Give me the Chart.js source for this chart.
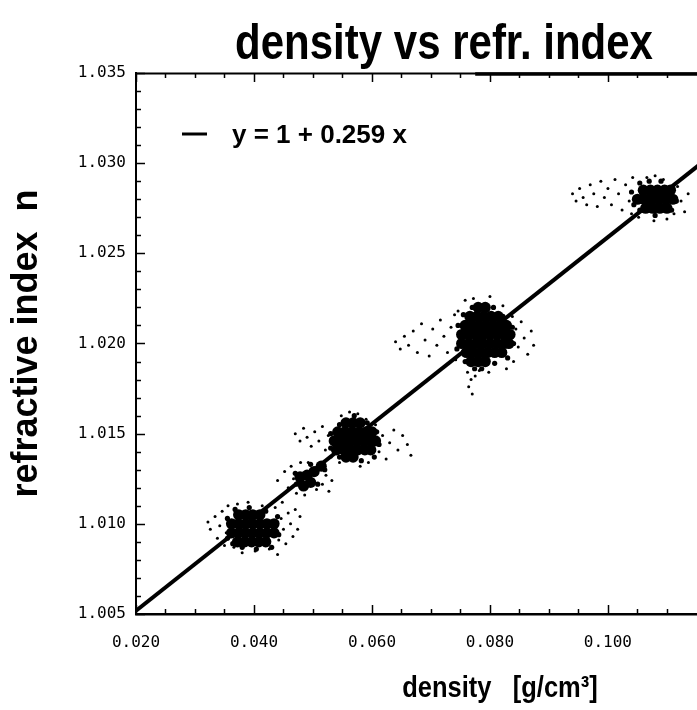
<!DOCTYPE html>
<html><head><meta charset="utf-8">
<script src="https://cdn.jsdelivr.net/npm/chart.js@4"></script>
<style>html,body{margin:0;padding:0;background:#fff;}canvas{display:block;}</style>
</head><body>
<canvas id="c" width="697" height="710"></canvas>
<script>
// ---- tick labels / tick positions ----
const xTickVals = [0.020, 0.040, 0.060, 0.080, 0.100];
const xMinorVals = [0.025, 0.030, 0.035, 0.045, 0.050, 0.055, 0.065, 0.070, 0.075, 0.085, 0.090, 0.095, 0.105, 0.110];
const yTickVals = [1.005, 1.010, 1.015, 1.020, 1.025, 1.030, 1.035];
const yMinorVals = [1.006, 1.007, 1.008, 1.009, 1.011, 1.012, 1.013, 1.014, 1.016, 1.017, 1.018, 1.019,
                    1.021, 1.022, 1.023, 1.024, 1.026, 1.027, 1.028, 1.029, 1.031, 1.032, 1.033, 1.034];

// ---- fit line y = 1 + 0.259 x (end points) ----
const fitDensity = [0.020, 0.1160];
const fitIndex   = [1.00518, 1.03004];

// ---- dense cores of the measurement clusters ----
const coreDensity = [
  0.0374,0.0386,0.0398,0.0410,
  0.0362,0.0374,0.0386,0.0398,0.0410,0.0422,0.0434,
  0.0362,0.0374,0.0386,0.0398,0.0410,0.0422,0.0434,
  0.0372,0.0384,0.0396,0.0408,0.0420,
  0.0478,0.0490,0.0502,0.0514,0.0496,0.0484,
  0.0556,0.0568,0.0580,
  0.0542,0.0554,0.0566,0.0578,0.0590,0.0600,
  0.0536,0.0548,0.0560,0.0572,0.0584,0.0596,0.0606,
  0.0540,0.0552,0.0564,0.0576,0.0588,0.0598,
  0.0556,0.0568,
  0.0780,0.0792,
  0.0766,0.0778,0.0790,0.0802,0.0814,
  0.0758,0.0770,0.0782,0.0794,0.0806,0.0818,0.0828,
  0.0752,0.0764,0.0776,0.0788,0.0800,0.0812,0.0824,0.0834,
  0.0752,0.0764,0.0776,0.0788,0.0800,0.0812,0.0824,0.0832,
  0.0760,0.0772,0.0784,0.0796,0.0808,0.0820,
  0.0768,0.0780,0.0792,
  0.1060,0.1072,0.1084,0.1096,0.1106,
  0.1050,0.1062,0.1074,0.1086,0.1098,0.1110,
  0.1064,0.1076,0.1088,0.1100
];
const coreIndex = [
  1.0105,1.0105,1.0105,1.0105,
  1.0100,1.0100,1.0100,1.0100,1.0100,1.0100,1.0100,
  1.0095,1.0095,1.0095,1.0095,1.0095,1.0095,1.0095,
  1.0090,1.0090,1.0090,1.0090,1.0090,
  1.0126,1.0127,1.0129,1.0132,1.0123,1.0121,
  1.0156,1.0156,1.0156,
  1.0151,1.0151,1.0151,1.0151,1.0151,1.0151,
  1.0146,1.0146,1.0146,1.0146,1.0146,1.0146,1.0146,
  1.0141,1.0141,1.0141,1.0141,1.0141,1.0141,
  1.0137,1.0137,
  1.0220,1.0220,
  1.0215,1.0215,1.0215,1.0215,1.0215,
  1.0210,1.0210,1.0210,1.0210,1.0210,1.0210,1.0210,
  1.0205,1.0205,1.0205,1.0205,1.0205,1.0205,1.0205,1.0205,
  1.0200,1.0200,1.0200,1.0200,1.0200,1.0200,1.0200,1.0200,
  1.0195,1.0195,1.0195,1.0195,1.0195,1.0195,
  1.0190,1.0190,1.0190,
  1.0285,1.0285,1.0285,1.0285,1.0285,
  1.0280,1.0280,1.0280,1.0280,1.0280,1.0280,
  1.0275,1.0275,1.0275,1.0275
];

// ---- fringe of each cluster ----
const fringeDensity = [
  0.0355,0.0355,0.0368,0.0392,0.0420,0.0440,0.0442,0.0430,0.0404,0.0380,0.0364,
  0.0470,0.0472,0.0508,0.0520,0.0496,
  0.0530,0.0530,0.0545,0.0592,0.0608,0.0612,0.0604,0.0582,0.0545,0.0570,
  0.0746,0.0744,0.0755,0.0770,0.0806,0.0822,0.0838,0.0840,0.0830,0.0808,0.0758,0.0774,0.0786,
  0.1040,0.1044,0.1054,0.1070,0.1090,0.1110,0.1116,0.1108,0.1054,0.1080
];
const fringeIndex = [
  1.0103,1.0092,1.0108,1.0109,1.0107,1.0104,1.0094,1.0087,1.0086,1.0087,1.0089,
  1.0128,1.0122,1.0122,1.0130,1.0133,
  1.0150,1.0142,1.0155,1.0156,1.0151,1.0144,1.0137,1.0135,1.0137,1.0160,
  1.0210,1.0197,1.0216,1.0220,1.0220,1.0215,1.0209,1.0200,1.0192,1.0189,1.0190,1.0186,1.0186,
  1.0284,1.0277,1.0289,1.0290,1.0290,1.0286,1.0279,1.0274,1.0274,1.0271
];

// ---- scattered single measurements ----
const dotDensity = [
  0.0322,0.0326,0.0334,0.0338,0.0342,0.0346,0.0350,0.0353,0.0356,0.0366,0.0372,0.0380,0.0390,0.0402,0.0414,
  0.0426,0.0436,0.0442,0.0446,0.0450,0.0454,0.0458,0.0462,0.0466,0.0470,0.0474,0.0478,0.0448,0.0440,
  0.0440,0.0452,0.0458,0.0463,0.0467,0.0472,0.0479,0.0486,0.0506,0.0516,0.0522,0.0527,0.0532,0.0492,
  0.0470,0.0478,0.0484,0.0490,0.0497,0.0503,0.0510,0.0516,0.0521,0.0526,0.0531,0.0548,0.0562,0.0576,
  0.0590,0.0606,0.0612,0.0618,0.0624,0.0630,0.0637,0.0644,0.0652,0.0660,0.0666,0.0580,0.0594,0.0545,
  0.0640,0.0648,0.0655,0.0662,0.0670,0.0677,0.0684,0.0690,0.0697,0.0703,0.0710,0.0716,0.0722,0.0728,
  0.0734,0.0740,0.0742,0.0746,0.0758,0.0772,0.0800,0.0822,0.0838,0.0844,0.0848,0.0853,0.0858,0.0864,
  0.0870,0.0874,0.0840,0.0828,0.0762,0.0768,0.0764,0.0770,0.0775,0.0782,0.0798,
  0.0940,0.0946,0.0952,0.0958,0.0964,0.0970,0.0976,0.0982,0.0988,0.0994,0.1000,0.1006,0.1012,0.1018,
  0.1024,0.1030,0.1036,0.1042,0.1040,0.1052,0.1066,0.1080,0.1094,0.1112,0.1118,0.1124,0.1130,0.1136,
  0.1078,0.1100
];
const dotIndex = [
  1.0101,1.0097,1.0104,1.0092,1.0099,1.0107,1.0088,1.0095,1.0110,1.0087,1.0111,1.0084,1.0112,1.0085,1.0110,
  1.0086,1.0109,1.0091,1.0103,1.0097,1.0089,1.0106,1.0100,1.0093,1.0108,1.0097,1.0104,1.0112,1.0083,
  1.0124,1.0129,1.0120,1.0132,1.0125,1.0117,1.0134,1.0116,1.0119,1.0122,1.0127,1.0118,1.0124,1.0134,
  1.0150,1.0146,1.0153,1.0148,1.0143,1.0151,1.0146,1.0154,1.0141,1.0149,1.0137,1.0160,1.0162,1.0161,
  1.0158,1.0155,1.0140,1.0149,1.0136,1.0145,1.0152,1.0141,1.0149,1.0144,1.0138,1.0132,1.0134,1.0134,
  1.0201,1.0197,1.0204,1.0199,1.0207,1.0195,1.0211,1.0202,1.0193,1.0208,1.0199,1.0213,1.0204,1.0195,
  1.0209,1.0216,1.0191,1.0218,1.0224,1.0225,1.0226,1.0221,1.0215,1.0208,1.0198,1.0212,1.0203,1.0194,
  1.0207,1.0199,1.0190,1.0186,1.0184,1.0180,1.0176,1.0172,1.0182,1.0185,1.0184,
  1.0283,1.0279,1.0286,1.0281,1.0277,1.0288,1.0283,1.0276,1.0290,1.0281,1.0286,1.0277,1.0291,1.0283,
  1.0274,1.0288,1.0279,1.0292,1.0272,1.0270,1.0292,1.0293,1.0291,1.0272,1.0287,1.0279,1.0273,1.0283,
  1.0268,1.0269
];

const pairs = (xs, ys) => xs.map((x, i) => ({x: x, y: ys[i]}));

function condensedText(c, text, x, y, font, sx) {
  c.save();
  c.font = font;
  c.translate(x, y);
  c.scale(sx, 1);
  c.fillText(text, 0, 0);
  c.restore();
}

const decor = {
  id: 'decor',
  afterDatasetsDraw(chart) {
    const c = chart.ctx, a = chart.chartArea, sx = chart.scales.x, sy = chart.scales.y;
    c.save();
    c.strokeStyle = '#000';
    // top frame: thin on the left, heavier on the right (as in the scanned original)
    c.lineWidth = 2;
    c.beginPath(); c.moveTo(a.left, a.top + 0.5); c.lineTo(a.right, a.top + 0.5); c.stroke();
    const thickStart = sx.getPixelForValue(0.0775);
    c.lineWidth = 3.5;
    c.beginPath(); c.moveTo(thickStart, a.top + 1); c.lineTo(a.right, a.top + 1); c.stroke();
    c.lineWidth = 1.5;
    const tickX = (v, len) => {
      const px = Math.round(sx.getPixelForValue(v)) + 0.5;
      c.beginPath(); c.moveTo(px, a.bottom); c.lineTo(px, a.bottom - len); c.stroke();
      c.beginPath(); c.moveTo(px, a.top); c.lineTo(px, a.top + len); c.stroke();
    };
    const tickY = (v, len) => {
      const py = Math.round(sy.getPixelForValue(v)) + 0.5;
      c.beginPath(); c.moveTo(a.left, py); c.lineTo(a.left + len, py); c.stroke();
    };
    xTickVals.forEach(v => tickX(v, 9));
    xMinorVals.forEach(v => tickX(v, 5));
    yTickVals.forEach(v => tickY(v, 9));
    yMinorVals.forEach(v => tickY(v, 5));
    // legend
    const lx = a.left + 46, ly = a.top + 61;
    c.lineWidth = 3;
    c.beginPath(); c.moveTo(lx, ly); c.lineTo(lx + 25, ly); c.stroke();
    c.fillStyle = '#000';
    c.textBaseline = 'alphabetic';
    c.textAlign = 'left';
    condensedText(c, 'y = 1 + 0.259 x', lx + 50, ly + 9, 'bold 26px "Liberation Sans", Arial, sans-serif', 1.0);
    // main title
    c.textAlign = 'center';
    condensedText(c, 'density vs refr. index', 444, 59, 'bold 50px "Liberation Sans", Arial, sans-serif', 0.84);
    // x axis title
    condensedText(c, 'density   [g/cm\u00B3]', 500, 697, 'bold 30px "Liberation Sans", Arial, sans-serif', 0.85);
    c.restore();
  }
};

new Chart(document.getElementById('c'), {
  type: 'scatter',
  data: {
    datasets: [
      {label: 'fit', type: 'line', data: pairs(fitDensity, fitIndex), borderColor: '#000', borderWidth: 4,
       pointRadius: 0, showLine: true, fill: false, order: 0},
      {label: 'core', data: pairs(coreDensity, coreIndex), pointRadius: 5.6, backgroundColor: '#000', borderWidth: 0, order: 1},
      {label: 'fringe', data: pairs(fringeDensity, fringeIndex), pointRadius: 2.6, backgroundColor: '#000', borderWidth: 0, order: 2},
      {label: 'dots', data: pairs(dotDensity, dotIndex), pointRadius: 1.5, backgroundColor: '#000', borderWidth: 0, order: 3}
    ]
  },
  options: {
    responsive: false, animation: false, devicePixelRatio: 1,
    layout: {autoPadding: false, padding: {top: 73, right: 0, left: 0, bottom: 0}},
    plugins: {legend: {display: false}, title: {display: false}, tooltip: {enabled: false}},
    scales: {
      x: {
        type: 'linear', min: 0.020, max: 0.1151,
        afterBuildTicks: s => { s.ticks = xTickVals.map(v => ({value: v})); },
        afterFit: s => { s.height = 96; },
        grid: {display: false, drawTicks: false},
        border: {display: true, color: '#000', width: 2.5},
        ticks: {callback: v => v.toFixed(3), font: {family: '"DejaVu Sans Mono", monospace', size: 16},
                color: '#000', padding: 19, maxRotation: 0, autoSkip: false}
      },
      y: {
        type: 'linear', min: 1.005, max: 1.035,
        afterBuildTicks: s => { s.ticks = yTickVals.map(v => ({value: v})); },
        afterFit: s => { s.width = 136; },
        grid: {display: false, drawTicks: false},
        border: {display: true, color: '#000', width: 2},
        ticks: {callback: v => v.toFixed(3), font: {family: '"DejaVu Sans Mono", monospace', size: 16},
                color: '#000', padding: 10, autoSkip: false},
        title: {display: true, text: 'refractive index  n', color: '#000',
                font: {family: '"Liberation Sans", Arial, sans-serif', size: 36, weight: 'bold'}, padding: {top: 5, bottom: 0}}
      }
    }
  },
  plugins: [decor]
});
</script>
</body></html>
